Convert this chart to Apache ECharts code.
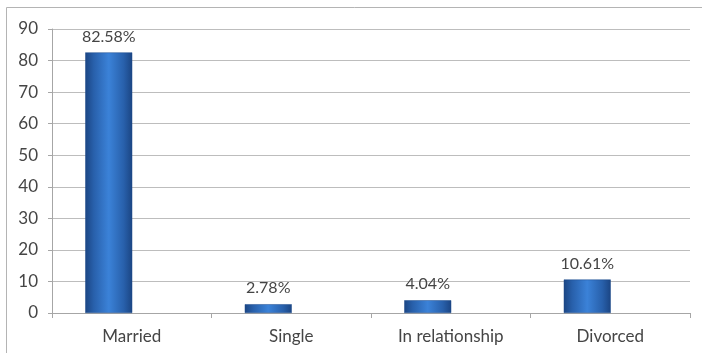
<!DOCTYPE html>
<html>
<head>
<meta charset="utf-8">
<script src="https://cdn.jsdelivr.net/npm/echarts@6/dist/echarts.min.js"></script>
<style>
  html, body { margin: 0; padding: 0; background: #ffffff; }
  #chart { width: 702px; height: 353px; }
</style>
</head>
<body>
<div id="chart"></div>
<script>
// Marital status shares (%)
const categories = ['Married', 'Single', 'In relationship', 'Divorced'];
const shares = [82.58, 2.78, 4.04, 10.61];
const yTicks = [0, 10, 20, 30, 40, 50, 60, 70, 80, 90];

const chart = echarts.init(document.getElementById('chart'), null, { renderer: 'canvas' });

const textColor = '#454545';
const fontFamily = 'Lato, "Open Sans", sans-serif';

const barFill = new echarts.graphic.LinearGradient(0, 0, 1, 0, [
  { offset: 0, color: '#1b4583' },
  { offset: 0.18, color: '#2860ab' },
  { offset: 0.5, color: '#3b82d8' },
  { offset: 0.82, color: '#2860ab' },
  { offset: 1, color: '#1b4583' }
]);

chart.setOption({
  animation: false,
  backgroundColor: '#ffffff',
  graphic: [{
    type: 'rect',
    shape: { x: 6.5, y: 7.5, width: 720, height: 360 },
    style: { fill: 'none', stroke: '#b4b4b4', lineWidth: 1 },
    silent: true,
    z: -1
  }],
  grid: [
    // axes, gridlines and category labels
    { left: 52, right: 12, top: 29, bottom: 40 },
    // columns sit a little left of each category centre
    { left: 29, right: 35, top: 29, bottom: 40 }
  ],
  xAxis: [{
    type: 'category',
    gridIndex: 0,
    data: categories,
    axisLine: { lineStyle: { color: '#a6a6a6' } },
    axisTick: { show: true, length: 5, lineStyle: { color: '#a6a6a6' } },
    axisLabel: { color: textColor, fontSize: 17, fontFamily: fontFamily, margin: 15 }
  }, {
    type: 'category',
    gridIndex: 1,
    data: categories,
    show: false
  }],
  yAxis: [{
    type: 'value',
    gridIndex: 0,
    min: yTicks[0],
    max: yTicks[yTicks.length - 1],
    interval: yTicks[1] - yTicks[0],
    axisLine: { show: true, lineStyle: { color: '#a6a6a6' } },
    axisTick: { show: true, length: 4, lineStyle: { color: '#a6a6a6' } },
    splitLine: { lineStyle: { color: '#bdbdbd', width: 1 } },
    axisLabel: { color: textColor, fontSize: 17, fontFamily: fontFamily, margin: 14 }
  }, {
    type: 'value',
    gridIndex: 1,
    min: yTicks[0],
    max: yTicks[yTicks.length - 1],
    show: false
  }],
  series: [{
    type: 'bar',
    xAxisIndex: 1,
    yAxisIndex: 1,
    data: shares,
    barWidth: 47,
    itemStyle: {
      color: barFill,
      borderColor: '#1d4b8a',
      borderWidth: 0.5
    },
    label: {
      show: true,
      position: 'top',
      distance: 8,
      color: textColor,
      fontSize: 16,
      fontFamily: fontFamily,
      formatter: p => p.value.toFixed(2) + '%'
    }
  }]
});
</script>
</body>
</html>
